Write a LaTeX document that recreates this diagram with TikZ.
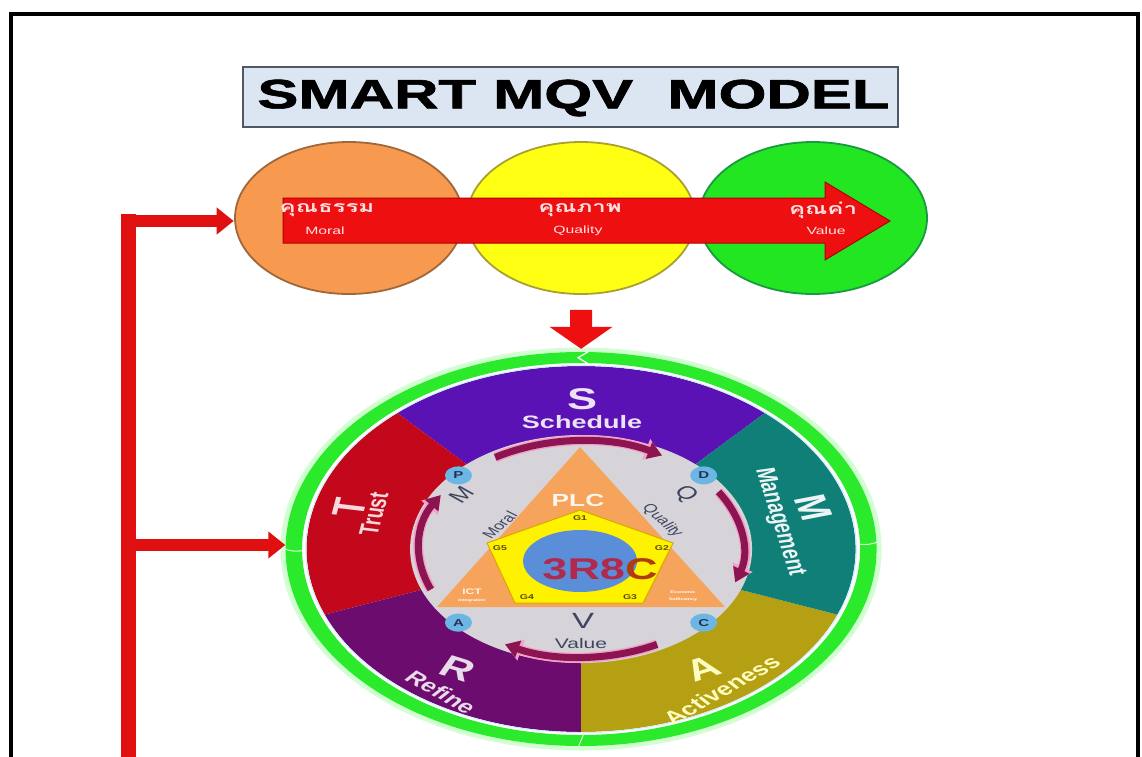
\documentclass[tikz,border=0pt]{standalone}
\usepackage{fontspec}
\setmainfont{Liberation Sans}
\newfontfamily\thaifont[Script=Thai]{Loma}
\newfontfamily\titlefont[FakeBold=1.4]{Liberation Sans}
\usetikzlibrary{arrows.meta,calc}
\definecolor{orangeF}{HTML}{F79A50}
\definecolor{orangeD}{HTML}{A0683A}
\definecolor{yellowF}{HTML}{FFFF14}
\definecolor{yellowD}{HTML}{A8A030}
\definecolor{greenF}{HTML}{22E622}
\definecolor{greenD}{HTML}{1A9A40}
\definecolor{redA}{HTML}{EE1010}
\definecolor{redD}{HTML}{B00000}
\definecolor{redL}{HTML}{E01010}
\definecolor{titleF}{HTML}{DCE6F2}
\definecolor{titleD}{HTML}{505866}
\definecolor{ringG}{HTML}{2BEA2B}
\definecolor{secS}{HTML}{5A12B4}
\definecolor{secM}{HTML}{0F7F78}
\definecolor{secA}{HTML}{B4A012}
\definecolor{secR}{HTML}{6C0C6E}
\definecolor{secT}{HTML}{C2081A}
\definecolor{grayD}{HTML}{D6D4D8}
\definecolor{triF}{HTML}{F6A45C}
\definecolor{pentF}{HTML}{FFF200}
\definecolor{pentD}{HTML}{D8A800}
\definecolor{blueE}{HTML}{5B8ED8}
\definecolor{arcC}{HTML}{8C1450}
\definecolor{arcO}{HTML}{F2A0C8}
\definecolor{txtR}{HTML}{B02A4E}
\definecolor{txtC}{HTML}{B03A14}
\definecolor{navy}{HTML}{263252}
\definecolor{slate}{HTML}{3E4560}
\definecolor{pdacF}{HTML}{6CB6E6}
\definecolor{thaiW}{HTML}{FFE0E0}
\definecolor{gOl}{HTML}{5A4A00}
\tikzset{
  bubble/.style={circle, minimum size=152pt, inner sep=0pt, line width=1.8pt},
  thaitxt/.style={font=\thaifont\bfseries\fontsize{16}{18}\selectfont, text=thaiW, inner sep=0pt},
  entxt/.style={font=\fontsize{10.5}{12}\selectfont, text=thaiW, inner sep=0pt},
  redarrow/.style={draw=redL, line width=12pt, -{Triangle[length=17pt,width=26pt]}},
  downarrow/.style={draw=redA, line width=22pt, -{Triangle[length=22pt,width=62pt]}},
  bigletter/.style={font=\bfseries\fontsize{30}{32}\selectfont, inner sep=0pt},
  secword/.style={font=\bfseries\fontsize{18}{20}\selectfont, inner sep=0pt},
  arcout/.style={draw=arcO, line width=10pt, -{Triangle[length=17pt,width=21pt]}},
  arcin/.style={draw=arcC, line width=7pt, -{Triangle[length=14pt,width=17pt]}},
  pdac/.style={circle, fill=pdacF, minimum size=18pt, inner sep=0pt, font=\bfseries\fontsize{10}{11}\selectfont, text=navy},
  gl/.style={font=\bfseries\fontsize{7}{8}\selectfont, text=gOl, inner sep=0pt},
  inl/.style={text=slate, inner sep=0pt},
  tiny/.style={font=\bfseries\fontsize{3.5}{4}\selectfont, text=white, inner sep=0pt}
}
\begin{document}
\begin{tikzpicture}[xscale=1.5, x=1pt, y=1pt, every node/.append style={transform shape}]
\useasboundingbox (0,0) rectangle (761.333,-756);
\fill[white] (0,0) rectangle (761.333,-756);
% frame
\draw[line width=4pt, black] (7.3,-770) -- (7.3,-14) -- (758.7,-14) -- (758.7,-770);
% title
\node[draw=titleD, fill=titleF, line width=2pt, minimum width=436.7pt, minimum height=60pt, inner sep=0pt] (title) at (380.3,-97) {};
\node[font=\titlefont\bfseries\fontsize{41}{46}\selectfont, text=black] (titletext) at (382.3,-98) {SMART MQV\ \ MODEL};
% three circles
\node[bubble, fill=orangeF, draw=orangeD] (moral) at (232.67,-218) {};
\node[bubble, fill=yellowF, draw=yellowD] (quality) at (387.33,-218) {};
\node[bubble, fill=greenF, draw=greenD] (value) at (542,-218) {};
% big red arrow
\filldraw[fill=redA, draw=redD, line width=1pt] (188.7,-198) -- (550,-198) -- (550,-182) -- (593.3,-221) -- (550,-260) -- (550,-243) -- (188.7,-243) -- cycle;
\node[thaitxt] (th1) at (218,-210) {คุณธรรม};
\node[entxt] (en1) at (216.7,-231) {Moral};
\node[thaitxt] (th2) at (386.7,-210) {คุณภาพ};
\node[entxt] (en2) at (385.3,-231) {Quality};
\node[thaitxt] (th3) at (548.7,-210) {คุณค่า};
\node[entxt] (en3) at (550.7,-231) {Value};
% wheel
\coordinate (C) at (387.33,-549);
\node[circle, minimum size=394pt, inner sep=0pt] (ring) at (C) {};
\draw[green!18, line width=7pt] (C) circle[radius=198];
\fill[ringG, even odd rule] (C) circle[radius=197] (C) circle[radius=186];
\draw[white, line width=1.2pt] ($(C)+(88.6:185.5)$) -- ($(C)+(90.6:191.3)$) -- ($(C)+(88.6:197.5)$);
\draw[white!85!green, line width=1pt] ($(C)+(180.5:185.5)$) to[bend left=20] ($(C)+(180:197.5)$);
\draw[white!85!green, line width=1pt] ($(C)+(1.5:185.5)$) to[bend right=20] ($(C)+(2:197.5)$);
\draw[white!85!green, line width=1pt] ($(C)+(270.5:185.5)$) -- ($(C)+(269.5:197.5)$);
% sectors
\fill[secS] (C) -- ++(48:183) arc[start angle=48, end angle=132, radius=183] -- cycle;
\fill[secT] (C) -- ++(132:183) arc[start angle=132, end angle=201, radius=183] -- cycle;
\fill[secR] (C) -- ++(201:183) arc[start angle=201, end angle=270, radius=183] -- cycle;
\fill[secA] (C) -- ++(270:183) arc[start angle=270, end angle=339, radius=183] -- cycle;
\fill[secM] (C) -- ++(339:183) arc[start angle=339, end angle=408, radius=183] -- cycle;
\draw[white!80!cyan, line width=1pt] (C) circle[radius=183.5];
% gray disk
\fill[grayD] (C) circle[radius=114];
% triangle, pentagon, ellipse
\fill[triF] (386.7,-447) -- (483.3,-607) -- (291.3,-607) -- cycle;
\filldraw[fill=pentF, draw=pentD, line width=1pt] (386.7,-510) -- (448.7,-543) -- (428.7,-603) -- (343.3,-603) -- (324.7,-543) -- cycle;
\fill[blueE] (386.7,-561) ellipse[x radius=38, y radius=31];
% arcs
\draw[arcout] ($(C)+(122:108)$) arc[start angle=122, end angle=60, radius=108];
\draw[arcin] ($(C)+(122:108)$) arc[start angle=122, end angle=60, radius=108];
\draw[arcout] ($(C)+(32:108)$) arc[start angle=32, end angle=-18, radius=108];
\draw[arcin] ($(C)+(32:108)$) arc[start angle=32, end angle=-18, radius=108];
\draw[arcout] ($(C)+(-62:108)$) arc[start angle=-62, end angle=-118, radius=108];
\draw[arcin] ($(C)+(-62:108)$) arc[start angle=-62, end angle=-118, radius=108];
\draw[arcout] ($(C)+(202:108)$) arc[start angle=202, end angle=150, radius=108];
\draw[arcin] ($(C)+(202:108)$) arc[start angle=202, end angle=150, radius=108];
% PDAC
\node[pdac] (P) at ($(C)+(138:110)$) {P};
\node[pdac] (D) at ($(C)+(42:110)$) {D};
\node[pdac] (A) at ($(C)+(222:110)$) {A};
\node[pdac] (Cc) at ($(C)+(318:110)$) {C};
% inner texts
\node[inl, font=\fontsize{18}{20}\selectfont, rotate=50] (Mm) at (307.5,-495) {M};
\node[inl, font=\fontsize{12}{14}\selectfont, rotate=53] (moralw) at (333,-525) {Moral};
\node[inl, font=\fontsize{18}{20}\selectfont, rotate=-45] (Qq) at (457,-494) {Q};
\node[inl, font=\fontsize{12}{14}\selectfont, rotate=-53] (qualw) at (441.5,-521) {Quality};
\node[inl, font=\fontsize{22}{24}\selectfont] (Vv) at (388.7,-621) {V};
\node[inl, font=\fontsize{14}{16}\selectfont] (valw) at (387.3,-643) {Value};
\node[font=\bfseries\fontsize{17.5}{19}\selectfont, text=white!92!orange, inner sep=0pt] (plc) at (385.3,-500) {PLC};
\node[gl] (g1) at (386.7,-518) {G1};
\node[gl] (g2) at (441.3,-548) {G2};
\node[gl] (g3) at (420,-597) {G3};
\node[gl] (g4) at (351.3,-597) {G4};
\node[gl] (g5) at (333.3,-548) {G5};
\node[font=\bfseries\fontsize{30}{32}\selectfont, inner sep=0pt] (core) at (400,-569) {\textcolor{txtR}{3R8}\textcolor{txtC}{C}};
\node[font=\bfseries\fontsize{8}{9}\selectfont, text=white!90!orange, inner sep=0pt] (ict) at (314.7,-592) {ICT};
\node[tiny] (ict2) at (314.7,-601) {Integration};
\node[tiny] (eco1) at (455.3,-592) {Economic};
\node[tiny] (eco2) at (455.3,-600) {Sufficiency};
% sector labels
\node[bigletter, text=white!88!secS] (Sl) at (388,-399) {S};
\node[secword, text=white!88!secS] (Sw) at (388,-422) {Schedule};
\node[bigletter, text=white!92!secM, rotate=-74] (Ml) at (542.5,-508) {M};
\node[secword, text=white!92!secM, rotate=-78] (Mw) at (519.5,-522) {Management};
\node[bigletter, text=white!85!secT, rotate=80] (Tl) at (233.3,-508) {T};
\node[secword, text=white!85!secT, rotate=80] (Tw) at (249.3,-514) {Trust};
\node[bigletter, text=white!85!secR, rotate=-25] (Rl) at (305,-669) {R};
\node[secword, text=white!85!secR, rotate=-40] (Rw) at (294,-692) {Refine};
\node[bigletter, text=white!75!yellow, rotate=25] (Al) at (468.5,-669) {A};
\node[secword, text=white!75!yellow, rotate=40] (Aw) at (481,-690) {Activeness};
% connectors
\draw[downarrow] ([yshift=-15pt]quality.south) -- ([yshift=3pt]ring.north);
\coordinate (vbot) at (85.7,-770);
\coordinate (vtop) at (85.7,-214);
\coordinate (vt) at (85.7,-221);
\coordinate (vm) at (85.7,-545);
\draw[draw=redL, line width=15pt] (vbot) -- (vtop);
\draw[redarrow] (vt) -- (vt -| moral.west);
\draw[redarrow] (vm) -- (vm -| ring.west);
\end{tikzpicture}
\end{document}
